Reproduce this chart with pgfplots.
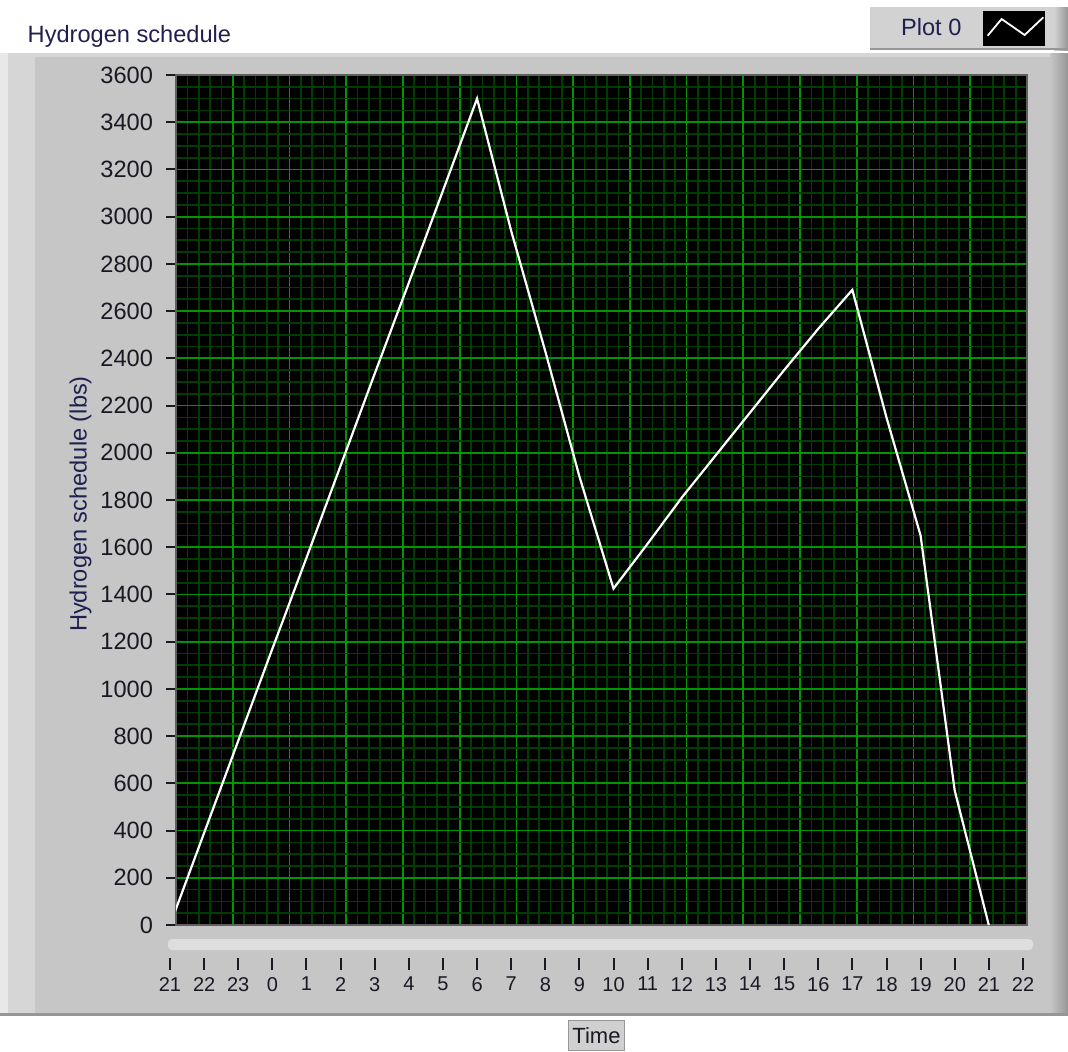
\documentclass[border=0pt]{standalone}
\usepackage{pgfplots}
\pgfplotsset{compat=1.18}
\usepackage{pgfplotstable}
\usepackage{fontspec}
\setmainfont{Liberation Sans}
\definecolor{panelgray}{RGB}{198,198,198}
\definecolor{panellight}{RGB}{214,214,214}
\definecolor{panelwhite}{RGB}{232,232,232}
\definecolor{legendgray}{RGB}{210,210,210}
\definecolor{scrollgray}{RGB}{222,222,222}
\definecolor{majorgrid}{RGB}{0,150,0}
\definecolor{minorgrid}{RGB}{0,62,0}
\definecolor{navy}{RGB}{32,32,80}
\definecolor{tickcol}{RGB}{25,25,35}
\definecolor{framegray}{RGB}{95,95,95}
\definecolor{darkedge}{RGB}{150,150,150}
\definecolor{timegray}{RGB}{208,208,208}

\pgfplotstableread{
t v
0 0
1 390
2 780
3 1170
4 1555
5 1945
6 2335
7 2720
8 3110
9 3500
10 2940
11 2430
12 1900
13 1425
14 1615
15 1810
16 1990
17 2170
18 2350
19 2525
20 2690
21 2150
22 1650
23 570
24 0
}\hdata

\begin{document}
\begin{tikzpicture}
\fill[white] (0,0) rectangle (534pt,-525.5pt);
\useasboundingbox (0,0) rectangle (534pt,-525.5pt);
% LabVIEW panel
\fill[panelgray] (4pt,-26.5pt) rectangle (534pt,-507.5pt);
\fill[panelwhite] (0pt,-26.5pt) rectangle (4pt,-507.5pt);
\fill[panellight] (4pt,-26.5pt) rectangle (17.5pt,-507.5pt);
\fill[panellight] (4pt,-26.5pt) rectangle (534pt,-28.5pt);
\shade[left color=panelgray, right color=darkedge] (525pt,-26.5pt) rectangle (534pt,-507.5pt);
\fill[darkedge] (0pt,-506.5pt) rectangle (534pt,-508pt);
% legend background
\fill[legendgray] (435pt,-3.5pt) rectangle (534pt,-25pt);
\shade[left color=legendgray, right color=darkedge] (527pt,-3.5pt) rectangle (534pt,-25pt);
\fill[darkedge] (435pt,-24.2pt) rectangle (534pt,-25pt);
% scrollbar strip
\fill[scrollgray, rounded corners=2pt] (84pt,-469.5pt) rectangle (516.5pt,-475pt);

\begin{axis}[
  name=main,
  at={(88pt,-462.5pt)}, anchor=south west,
  scale only axis, width=425.5pt, height=425pt,
  xmin=0.176, xmax=25.12, ymin=0, ymax=3600,
  xtick={0.176,1.839,3.502,5.165,6.828,8.491,10.154,11.817,13.479,15.142,16.805,18.468,20.131,21.794,23.457,25.12},
  xticklabels={},
  minor xtick={0.176,0.508586,...,25.2},
  ytick={0,200,...,3600},
  minor ytick={0,50,...,3600},
  ytick pos=left,
  grid=both,
  major x grid style={draw=majorgrid, line width=0.9pt},
  major y grid style={draw=majorgrid, line width=0.9pt},
  minor x grid style={draw=minorgrid, line width=0.85pt},
  minor y grid style={draw=minorgrid, line width=0.85pt},
  axis background/.style={fill=black},
  axis line style={draw=framegray, line width=1pt},
  tick align=outside,
  major tick length=8pt,
  minor tick length=0pt,
  xtick style={draw=none},
  ytick style={draw=tickcol, line width=1pt, dash pattern=on 0pt off 3pt on 5pt},
  yticklabel style={font=\fontsize{11.8}{14}\selectfont, text=tickcol},
  /pgf/number format/1000 sep={},
  /pgf/number format/assume math mode=true,
  ylabel={Hydrogen schedule (lbs)},
  ylabel style={at={(axis description cs:-0.1122,0.4953)}, anchor=center, font=\fontsize{11.8}{14}\selectfont, text=navy, inner sep=0pt},
  title={Hydrogen schedule},
  title style={at={(axis description cs:-0.1747,1.0247)}, anchor=base west, inner sep=0pt, font=\fontsize{11.8}{14}\selectfont, text=navy},
  legend plot pos=right,
  legend style={at={(axis description cs:1.0388,1.08)}, anchor=north east,
    fill=none, draw=none, inner sep=0pt, outer sep=0pt,
    font=\fontsize{11.8}{14}\selectfont, text=navy,
    nodes={inner sep=0pt, fill=none}, column sep=0pt},
  legend image code/.code={
    \path[draw=none, fill=none] (0pt,-10.75pt) rectangle (49.3pt,10.75pt);
    \fill[black, draw=none] (11pt,-8.6pt) rectangle (42pt,8.6pt);
    \draw[white, line width=0.9pt, solid] (13.1pt,-3.6pt) -- (20.1pt,4.75pt) -- (31.6pt,-3.25pt) -- (40.95pt,5.6pt);
  },
]
\addplot[white, line width=1.1pt] table[x=t, y=v] {\hdata};
\addlegendentry{\hspace*{15pt}Plot 0}
\end{axis}

\begin{axis}[
  at={(85pt,-482pt)}, anchor=south west,
  scale only axis, width=426.5pt, height=2pt,
  xmin=0, xmax=25, ymin=0, ymax=1,
  axis line style={draw=none},
  ytick=\empty,
  xtick={0,...,25},
  xticklabels={21,22,23,0,1,2,3,4,5,6,7,8,9,10,11,12,13,14,15,16,17,18,19,20,21,22},
  xtick pos=left,
  tick align=center,
  major tick length=6pt,
  tick style={draw=tickcol, line width=1pt},
  xticklabel style={font=\fontsize{10}{12}\selectfont, text=tickcol},
  xlabel={Time},
  xlabel style={at={(axis description cs:0.5,0)}, anchor=north, yshift=-28pt,
    fill=timegray, draw=darkedge, line width=0.6pt, minimum width=28.3pt, minimum height=15pt,
    inner sep=0pt, font=\fontsize{11}{13}\selectfont, text=tickcol},
]
\addplot[draw=none] coordinates {(0,0)};
\end{axis}
\end{tikzpicture}
\end{document}
